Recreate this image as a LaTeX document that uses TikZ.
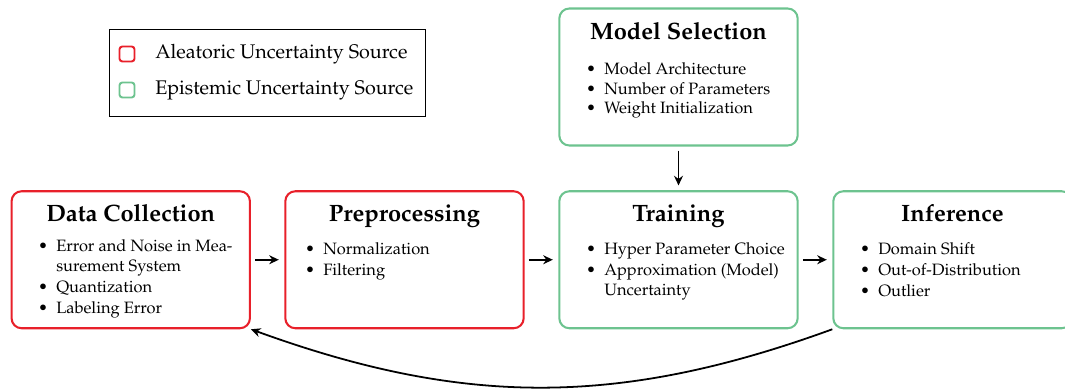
\documentclass[tikz,border=0pt]{standalone}
\usepackage[T1]{fontenc}
\usepackage{mathpazo}
\usetikzlibrary{arrows.meta}
\definecolor{alea}{HTML}{E8202A}
\definecolor{epis}{HTML}{6DC38F}
\tikzset{
  stage/.style={draw, rounded corners=7.3pt, line width=1.5pt,
    minimum width=174pt, minimum height=100pt, inner sep=0pt},
  alestage/.style={stage, draw=alea},
  epistage/.style={stage, draw=epis},
  title/.style={anchor=base, inner sep=0pt,
    font=\fontsize{17.28}{20}\selectfont\bfseries},
  items/.style={anchor=base west, inner sep=0pt,
    font=\fontsize{12}{14.3}\selectfont},
  flow/.style={-{Stealth[length=7pt,width=6.5pt]}, line width=1.3pt},
  keybox/.style={draw, rounded corners=2.2pt, line width=1.4pt,
    minimum size=11pt, inner sep=0pt},
  keytext/.style={anchor=base west, inner sep=0pt,
    font=\fontsize{14.4}{17}\selectfont}
}
\newcommand{\bul}{\llap{\textbullet\hspace{6pt}}}
\begin{document}
\begin{tikzpicture}[x=0.73pt,y=-0.73pt]
\useasboundingbox (0,0) rectangle (1065,390);

% legend
\node[draw, line width=0.7pt, minimum width=230pt, minimum height=63.5pt,
  inner sep=0pt] (legend) at (267.5,72.5) {};
\node[keybox, draw=alea] (keyA) at (127,54) {};
\node[keybox, draw=epis] (keyE) at (127,90) {};
\node[keytext] (keyAt) at (155,58.5) {Aleatoric Uncertainty Source};
\node[keytext] (keyEt) at (155,94.5) {Epistemic Uncertainty Source};

% pipeline stages
\node[alestage] (dc) at (130.75,259.75) {};
\node[alestage] (pre) at (404.5,259.75) {};
\node[epistage] (train) at (678.5,259.75) {};
\node[epistage] (inf) at (952.5,259.75) {};
\node[epistage] (ms) at (678.5,77) {};

% stage titles
\node[title] (dct) at (130.75,222) {Data Collection};
\node[title] (pret) at (404.5,222) {Preprocessing};
\node[title] (traint) at (678.5,222) {Training};
\node[title] (inft) at (952.5,222) {Inference};
\node[title] (mst) at (678.5,40) {Model Selection};

% stage contents
\node[items] (dcl) at (56,252) {\begin{tabular}[t]{@{}l@{}}
  \bul Error and Noise in Mea-\\ surement System\\[1pt]
  \bul Quantization\\[1pt]
  \bul Labeling Error\end{tabular}};
\node[items] (prel) at (323,255) {\begin{tabular}[t]{@{}l@{}}
  \bul Normalization\\[1pt]
  \bul Filtering\end{tabular}};
\node[items] (trainl) at (604,255) {\begin{tabular}[t]{@{}l@{}}
  \bul Hyper Parameter Choice\\[1pt]
  \bul Approximation (Model)\\ Uncertainty\end{tabular}};
\node[items] (infl) at (878,255) {\begin{tabular}[t]{@{}l@{}}
  \bul Domain Shift\\[1pt]
  \bul Out-of-Distribution\\[1pt]
  \bul Outlier\end{tabular}};
\node[items] (msl) at (604,74.5) {\begin{tabular}[t]{@{}l@{}}
  \bul Model Architecture\\
  \bul Number of Parameters\\
  \bul Weight Initialization\end{tabular}};

% connectors
\draw[flow, shorten <=3pt, shorten >=4pt] (dc) -- (pre);
\draw[flow, shorten <=3pt, shorten >=4pt] (pre) -- (train);
\draw[flow, shorten <=3pt, shorten >=4pt] (train) -- (inf);
\draw[flow, shorten <=3pt, shorten >=3.5pt] (ms) -- (train);
\draw[flow] (inf.south west) to[bend left=20] (dc.south east);
\end{tikzpicture}
\end{document}
